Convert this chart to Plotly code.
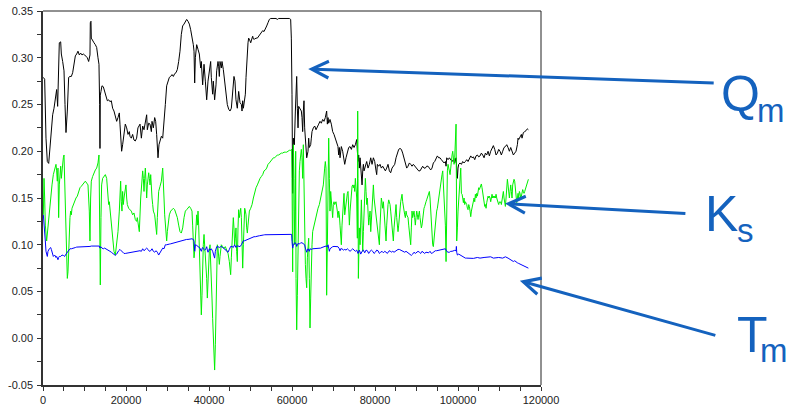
import plotly.graph_objects as go

# ---------------- data ----------------
qm_x = [80, 400, 720, 1040, 1370, 1690, 2010, 2330, 2650, 2970, 3290, 3530, 3770, 3930, 4260, 4420, 4740, 5060, 5300, 5540, 5860, 6180, 6500, 6830, 7150, 7470, 7790, 8110, 8430, 8750, 9070, 9390, 9720, 10040, 10360, 10680, 11000, 11320, 11400, 11560, 11640, 11960, 12290, 12610, 12930, 13250, 13490, 13650, 13730, 13810, 13970, 14210, 14530, 14850, 15180, 15500, 15820, 16140, 16460, 16780, 17100, 17430, 17750, 18070, 18390, 18550, 18710, 18950, 19190, 19510, 19830, 20160, 20480, 20800, 20960, 21280, 21600, 21920, 22240, 22560, 22880, 23130,
        23380, 23700, 24020, 24340, 24660, 24980, 25140, 25460, 25790, 26110, 26270, 26590, 26910, 27150, 27390, 27710, 27950, 28200, 28520, 28840, 29160, 29480, 29800, 30120, 30440, 30760, 31090, 31410, 31730, 32050, 32370, 32690, 33010, 33330, 33650, 33980, 34300, 34620, 34940, 35260, 35580, 35900, 36220, 36390, 36550, 36710, 37030, 37350, 37670, 37990, 38150, 38470, 38800, 39120, 39440, 39760, 40080, 40400, 40560, 40880, 41040, 41360, 41690, 41850, 42170, 42330, 42490, 42650, 42970, 43130, 43450, 43770, 44090, 44410, 44740, 45060, 45380, 45700, 46020, 46260, 46500, 46820, 47150, 47470,
        47800, 47960, 48120, 48280, 48440, 48600, 48760, 48920, 49080, 49240, 49400, 49560, 49730, 49890, 50050, 50210, 50370, 50530, 50690, 51010, 51330, 51650, 51970, 52300, 52620, 52940, 53260, 53580, 53900, 54220, 54380, 54540, 54870, 55190, 55510, 55830, 56150, 56470, 56790, 57110, 57430, 57910, 58400, 58880, 59360, 59680, 59840, 60000, 60080, 60160, 60330, 60570, 60810, 60970, 61130, 61290, 61450, 61610, 61930, 62250, 62410, 62570, 62730, 62890, 63050, 63220, 63380, 63540, 63860, 64020, 64180, 64500, 64660, 64820, 65140, 65470, 65790, 66110, 66430, 66750, 67070, 67390, 67710, 68030, 68190, 68350, 68520, 68680, 68840, 69000, 69160, 69480, 69800, 70120, 70440, 70760, 71080, 71250, 71410, 71570, 71890, 72210, 72530,
        72700, 73020, 73340, 73660, 73990, 74310, 74630, 74950, 75270, 75590, 75750, 75910, 76070, 76230, 76400, 76560, 76720, 76880, 77040, 77200, 77360, 77680, 78000, 78320, 78640, 78970, 79290, 79610, 79930, 80250, 80410, 80570, 80890, 81210, 81530, 81850, 82180, 82500, 82820, 83140, 83460, 83780, 84100, 84420, 84750, 85070, 85390, 85710, 86030, 86350, 86670, 86990, 87320, 87640, 87960, 88280, 88600, 88920, 89240, 89560, 89880, 90210, 90530, 90850, 91170, 91490, 91810, 92130, 92450, 92780, 93100, 93420, 93740, 94060, 94380, 94700, 95030, 95350, 95670, 95990, 96310, 96630,
        96960, 97120, 97280, 97600, 97930, 98250, 98570, 98890, 99210, 99530, 99690, 99850, 100010, 100170, 100500, 100820, 101140, 101460, 101780, 102100, 102420, 102740, 103070, 103390, 103710, 104030, 104350, 104670, 104990, 105310, 105630, 105960, 106280, 106600, 106920, 107240, 107560, 107880, 108200, 108520, 108850, 109170, 109490, 109810, 110130, 110450, 110770, 111090, 111420, 111740, 112060, 112380, 112700, 113020, 113340, 113660, 113980, 114310, 114470, 114630, 114950, 115270, 115430, 115750, 116070, 116390, 116710, 116960]
qm_vals = [.279, .277, .214, .189, .187, .207, .225, .239, .246, .254, .266, .248, .279, .316, .317, .304, .296, .286, .25, .22, .243, .279, .28, .28, .284, .293, .302, .304, .307, .303, .305, .303, .304, .303, .301, .30, .296, .303, .3375, .339, .321, .318, .316, .314, .311, .30, .293, .25, .203, .26, .264, .27, .269, .264, .261, .254, .255, .253, .254, .246, .243, .237, .232, .236, .241, .229, .214, .20, .207, .221, .229, .225, .218, .221, .216, .214, .218, .212, .211, .214, .225, .227,
           .229, .214, .227, .223, .232, .239, .223, .230, .229, .221, .232, .225, .236, .232, .218, .193, .207, .211, .216, .214, .229, .25, .270, .275, .279, .280, .282, .280, .283, .284, .2875, .296, .307, .325, .334, .336, .339, .341, .339, .336, .330, .323, .314, .307, .273, .30, .314, .309, .304, .289, .296, .271, .293, .275, .255, .275, .2875, .296, .279, .261, .275, .255, .271, .286, .296, .291, .280, .296, .289, .296, .2875, .275, .2625, .25, .245, .243, .246, .264, .280, .275, .255, .246, .264, .252,
           .25, .243, .254, .246, .252, .254, .261, .279, .296, .311, .316, .321, .320, .318, .316, .320, .321, .323, .320, .320, .321, .321, .323, .325, .327, .329, .328, .332, .334, .3375, .340, .341, .342, .342, .342, .342, .342, .341, .342, .342, .342, .342, .342, .342, .342, .341, .321, .261, .207, .155, .214, .207, .243, .261, .280, .246, .225, .248, .246, .243, .236, .221, .243, .254, .225, .211, .20, .193, .20, .214, .204, .207, .214, .221, .225, .227, .223, .227, .229, .232, .230, .234, .232, .236, .239, .243, .229, .236, .230, .232, .234, .229, .221, .218, .214, .211, .205, .196, .204, .193, .205, .20, .193,
           .186, .193, .20, .204, .205, .202, .207, .204, .207, .2125, .20, .189, .196, .182, .193, .182, .179, .164, .179, .186, .179, .186, .189, .182, .186, .193, .186, .193, .189, .179, .175, .186, .184, .186, .182, .184, .182, .179, .182, .186, .179, .177, .182, .184, .186, .193, .198, .202, .203, .202, .198, .193, .1875, .182, .184, .1875, .186, .184, .186, .184, .182, .18, .179, .179, .182, .184, .182, .182, .184, .184, .182, .18, .182, .1875, .189, .193, .195, .193, .193, .191, .189, .1875,
           .189, .184, .193, .191, .193, .191, .189, .191, .1875, .193, .182, .171, .182, .186, .1875, .186, .189, .1875, .189, .191, .189, .193, .195, .193, .194, .191, .195, .196, .194, .195, .198, .196, .193, .198, .196, .20, .195, .20, .204, .206, .202, .196, .198, .202, .20, .196, .20, .204, .205, .207, .204, .20, .204, .20, .196, .198, .20, .207, .214, .2125, .216, .218, .214, .22, .221, .222, .224, .223]

ks_x = [80, 240, 400, 560, 880, 1200, 1530, 1850, 2170, 2490, 2810, 3130, 3290, 3450, 3610, 3770, 3930, 4100, 4260, 4420, 4580, 4900, 5060, 5220, 5380, 5540, 5700, 5860, 6020, 6180, 6340, 6500, 6660, 6830, 6990, 7310, 7630, 7950, 8270, 8590, 8910, 9230, 9560, 9880, 10200, 10520, 10840, 11160, 11320, 11480, 11640, 11960, 12290, 12610, 12930, 13250, 13490, 13650, 13810, 13970, 14130, 14370, 14690, 15020, 15340, 15660, 15820, 15980, 16140, 16460, 16780, 17100, 17430, 17750, 18070, 18390, 18550, 18710, 18870, 19030, 19190, 19350, 19510, 19830, 19990, 20160, 20320, 20640, 20960, 21280, 21600, 21920, 22240, 22560, 22720, 23050, 23210,
        23540, 23700, 24020, 24180, 24340, 24500, 24660, 24820, 24980, 25140, 25300, 25470, 25630, 25790, 25950, 26110, 26270, 26430, 26590, 26910, 27230, 27390, 27550, 27710, 27870, 28200, 28520, 28840, 29000, 29160, 29320, 29480, 29640, 29800, 29960, 30120, 30440, 30770, 31090, 31410, 31730, 32050, 32370, 32690, 33010, 33330, 33660, 33980, 34300, 34620, 34940, 35260, 35580, 35900, 36060, 36230, 36390, 36550, 36710, 36870, 37030, 37190, 37350, 37510, 37670, 37830, 37990, 38150, 38310, 38470, 38630, 38800, 38960, 39120, 39280, 39440, 39600, 39760, 39920, 40080, 40240, 40400, 40560, 40720, 40880, 41040, 41200, 41360, 41530, 41690, 41850, 42010, 42170, 42330, 42490, 42650, 42810, 42970, 43290, 43610, 43930, 44260, 44580, 44900, 45220, 45380, 45540, 45700, 45860, 46020, 46180, 46340, 46500, 46660, 46830, 46990, 47150, 47310,
        47480, 47640, 47800, 47960, 48120, 48280, 48440, 48600, 48760, 48920, 49080, 49240, 49400, 49560, 49730, 50050, 50370, 50690, 51010, 51330, 51650, 51970, 52300, 52620, 52940, 53260, 53580, 53900, 54220, 54540, 54870, 55190, 55510, 55830, 56150, 56470, 56790, 57110, 57430, 57750, 58080, 58400, 58720, 59040, 59360, 59680, 59920, 60000, 60160, 60240, 60330, 60490, 60650, 60810, 60890, 60970, 61130, 61290, 61450, 61610, 61770, 61930, 62090, 62250, 62410, 62570, 62730, 62890, 63050, 63220, 63380, 63540, 63700, 63860, 64020, 64180, 64340, 64500, 64660, 64820, 64980, 65300, 65630, 65950, 66270, 66590, 66910, 67230, 67550, 67870, 68030, 68190, 68350, 68520, 68680, 68840, 69000, 69160, 69320, 69480, 69640, 69800, 69960, 70120, 70280, 70600, 70920, 71080, 71250, 71410, 71570, 71730, 71890, 72050, 72210, 72370, 72530,
        72700, 72860, 73020, 73180, 73340, 73500, 73660, 73830, 73990, 74150, 74310, 74470, 74630, 74790, 74950, 75110, 75270, 75430, 75590, 75750, 75830, 75910, 75990, 76070, 76150, 76230, 76400, 76560, 76720, 76880, 77040, 77200, 77360, 77520, 77680, 77840, 78000, 78160, 78320, 78480, 78640, 78810, 78970, 79130, 79290, 79450, 79610, 79770, 79930, 80090, 80250, 80410, 80570, 80730, 80890, 81050, 81210, 81370, 81530, 81700, 81850, 82020, 82180, 82340, 82500, 82660, 82820, 82980, 83140, 83300, 83460, 83620, 83780, 83940, 84100, 84260, 84420, 84590, 84750, 84910, 85070, 85230, 85390, 85550, 85710, 85870, 86030, 86190, 86350, 86510, 86670, 86830, 86990, 87160, 87320, 87480, 87640, 87800, 87960, 88120, 88280, 88440, 88600, 88760, 88920, 89080, 89240, 89400, 89560, 89720, 89880, 90050, 90210, 90370, 90530, 90690, 90850, 91010, 91170, 91330, 91490, 91650, 91810, 91970, 92130, 92290, 92450, 92620, 92780, 92940, 93100, 93260, 93420, 93580, 93740, 93900, 94060, 94220, 94380, 94540, 94700, 94860, 95030, 95190, 95350, 95510, 95670, 95830, 95990, 96150,
        96320, 96480, 96640, 96800, 96960, 97120, 97280, 97440, 97600, 97760, 97930, 98090, 98250, 98410, 98570, 98730, 98890, 99050, 99210, 99370, 99450, 99530, 99610, 99690, 99850, 100010, 100170, 100330, 100500, 100660, 100820, 100980, 101140, 101300, 101460, 101620, 101780, 101940, 102100, 102260, 102420, 102580, 102740, 102900, 103070, 103230, 103390, 103550, 103710, 103870, 104030, 104190, 104350, 104510, 104670, 104830, 104990, 105150, 105310, 105470, 105630, 105790, 105960, 106120, 106280, 106440, 106600, 106760, 106920, 107080, 107240, 107400, 107560, 107720, 107880, 108040, 108200, 108360, 108520, 108690, 108850, 109010, 109170, 109330, 109490, 109650, 109810, 109970, 110130, 110290, 110450, 110610, 110770, 110930, 111090, 111250, 111420, 111580, 111740, 111900, 112060, 112220, 112380, 112540, 112700, 112860, 113020, 113180, 113340, 113500, 113660, 113820, 113980, 114150, 114310, 114470, 114630, 114790, 114950, 115110, 115270, 115430, 115590, 115750, 115910, 116070, 116230, 116390, 116550, 116710, 116870, 116960]
ks_vals = [.132, .171, .15, .121, .104, .121, .136, .15, .164, .175, .182, .186, .179, .168, .182, .129, .164, .182, .184, .171, .182, .193, .196, .171, .136, .10, .079, .064, .071, .10, .114, .129, .136, .132, .139, .143, .146, .15, .152, .157, .161, .1625, .164, .166, .168, .166, .164, .136, .104, .15, .168, .173, .177, .18, .182, .1875, .196, .136, .057, .129, .164, .171, .173, .175, .171, .157, .143, .146, .139, .125, .107, .093, .089, .10, .114, .136, .15, .168, .146, .136, .157, .143, .15, .157, .164, .15, .143, .139, .1375, .136, .132, .134, .127, .125, .129, .121, .114,
           .15, .164, .179, .171, .157, .171, .182, .168, .15, .164, .175, .177, .171, .164, .175, .157, .15, .143, .136, .132, .121, .111, .129, .15, .157, .1625, .168, .182, .171, .15, .132, .118, .107, .104, .114, .121, .132, .136, .1375, .139, .1375, .134, .129, .121, .114, .1125, .118, .129, .136, .1375, .139, .141, .139, .136, .121, .10, .086, .093, .107, .129, .132, .121, .136, .121, .093, .064, .036, .025, .046, .086, .10, .111, .10, .093, .079, .064, .043, .064, .086, .093, .10, .086, .064, .043, .021, .0, -.021, -.034, -.007, .029, .079, .10, .096, .086, .079, .0875, .093, .10, .098, .096, .098, .095, .091, .082, .068, .086, .104, .121, .129, .118, .10, .107, .118, .093, .082, .118, .1375, .129,
           .136, .139, .129, .107, .075, .10, .136, .139, .136, .132, .118, .1125, .121, .129, .136, .139, .143, .15, .157, .161, .164, .168, .171, .173, .175, .179, .18, .182, .186, .1875, .189, .191, .193, .193, .195, .196, .196, .197, .198, .198, .199, .199, .199, .20, .201, .201, .202, .171, .071, .136, .207, .171, .10, .136, .20, .064, .009, .046, .10, .15, .179, .189, .196, .202, .193, .171, .207, .15, .10, .079, .064, .054, .086, .10, .107, .064, .011, .043, .086, .10, .114, .121, .129, .136, .139, .143, .15, .157, .164, .182, .189, .182, .046, .10, .179, .214, .171, .136, .157, .15, .136, .129, .143, .146, .143, .146, .136, .129, .136, .132, .121, .107, .10, .121, .136, .15, .155,
           .132, .139, .146, .15, .155, .157, .136, .121, .136, .15, .157, .1625, .164, .161, .164, .157, .171, .164, .15, .107, .243, .171, .064, .10, .064, .118, .10, .136, .148, .121, .093, .114, .143, .161, .171, .157, .143, .15, .136, .121, .129, .136, .114, .129, .143, .154, .164, .15, .143, .136, .129, .121, .118, .111, .104, .10, .121, .143, .15, .145, .139, .146, .136, .121, .114, .104, .121, .136, .143, .148, .146, .143, .136, .129, .121, .111, .104, .118, .129, .136, .143, .129, .121, .114, .121, .132, .139, .146, .15, .154, .146, .139, .136, .132, .129, .136, .132, .130, .129, .121, .114, .107, .10, .118, .136, .129, .132, .136, .129, .121, .129, .136, .132, .127, .132, .136, .129, .121, .118, .121, .129, .136, .139, .141, .145, .146, .148, .15, .152, .155, .157, .15, .136, .118, .107, .10, .098, .107, .118, .125, .132, .136, .139, .145, .15, .155, .161, .164, .17, .175,
           .179, .164, .15, .136, .121, .082, .15, .179, .186, .182, .179, .175, .182, .193, .196, .20, .193, .186, .193, .207, .225, .229, .171, .104, .118, .136, .15, .164, .175, .182, .155, .154, .15, .145, .15, .143, .146, .145, .143, .139, .1375, .143, .141, .136, .13, .136, .139, .141, .146, .15, .146, .154, .15, .155, .152, .157, .161, .159, .161, .164, .165, .161, .154, .15, .145, .141, .143, .139, .145, .15, .152, .15, .152, .15, .146, .15, .154, .15, .152, .15, .152, .15, .154, .15, .146, .145, .143, .146, .145, .146, .143, .15, .154, .157, .15, .145, .141, .15, .161, .17, .164, .155, .15, .157, .164, .157, .15, .164, .168, .17, .168, .161, .152, .145, .15, .155, .15, .157, .155, .15, .152, .157, .159, .157, .155, .157, .159, .161, .164, .166, .168, .17]

tm_x = [80, 240, 400, 560, 720, 880, 1040, 1200, 1370, 1530, 1690, 1850, 2010, 2170, 2330, 2490, 2810, 3130, 3290, 3450, 3610, 3770, 3930, 4260, 4580, 4900, 5220, 5540, 5860, 6180, 6500, 6830, 7150, 7470, 7790, 8110, 8430, 8750, 9070, 9390, 9720, 10040, 10360, 10680, 11000, 11320, 11640, 11960, 12290, 12610, 12930, 13250, 13570, 13730, 13890, 14210, 14530, 14850, 15180, 15500, 15820, 16140, 16460, 16780, 17100, 17430, 17750, 17910, 18070, 18230, 18550, 18870, 19190, 19510, 19830, 20160, 20480, 20800, 21120, 21440, 21760, 22080, 22400, 22720, 23050, 23370,
        23700, 24020, 24340, 24660, 24980, 25300, 25630, 25950, 26270, 26590, 26910, 27230, 27550, 27870, 28200, 28520, 28840, 29160, 29480, 29800, 30120, 30440, 30770, 31090, 31410, 31730, 32050, 32370, 32690, 33010, 33330, 33660, 33980, 34300, 34620, 34940, 35260, 35580, 35900, 36230, 36390, 36550, 36710, 37030, 37350, 37670, 37830, 37990, 38150, 38310, 38470, 38630, 38960, 39280, 39440, 39600, 39760, 39920, 40080, 40240, 40560, 40880, 41200, 41360, 41530, 41690, 41850, 42170, 42490, 42810, 43130, 43450, 43770, 44090, 44260, 44580, 44900, 45220, 45540, 45860, 46180, 46500, 46830, 47150, 47470, 47790,
        48120, 48280, 48600, 48920, 49240, 49560, 49890, 50210, 50530, 50850, 51170, 51490, 51810, 52130, 52460, 52780, 53100, 53420, 53740, 54060, 54380, 54700, 55030, 55510, 56310, 57110, 57910, 58720, 59520, 59920, 60000, 60160, 60330, 60490, 60650, 60970, 61130, 61290, 61450, 61770, 62090, 62410, 62730, 63050, 63220, 63380, 63540, 63700, 63860, 64020, 64180, 64340, 64660, 64980, 65300, 65630, 65950, 66270, 66590, 66910, 67230, 67550, 67870, 68190, 68520, 68680, 68840, 69000, 69160, 69480, 69800, 70120, 70440, 70760, 71080, 71410, 71570, 71730, 72050, 72370, 72690,
        73020, 73340, 73660, 73990, 74310, 74630, 74950, 75270, 75590, 75910, 76230, 76560, 76880, 77200, 77520, 77840, 78160, 78480, 78810, 79130, 79450, 79770, 80090, 80410, 80730, 81050, 81370, 81700, 82020, 82340, 82660, 82980, 83300, 83620, 83940, 84260, 84590, 84910, 85230, 85550, 85870, 86190, 86510, 86830, 87160, 87480, 87800, 88120, 88440, 88760, 89080, 89400, 89720, 90050, 90370, 90690, 91010, 91330, 91650, 91970, 92290, 92620, 92940, 93260, 93580, 93900, 94220, 94540, 94860, 95190, 95510, 95830, 96150, 96470, 96640,
        96960, 97280, 97600, 97930, 98250, 98570, 98890, 99210, 99530, 99610, 99690, 99850, 100170, 100500, 100820, 101140, 101460, 101780, 102100, 102740, 103710, 104670, 105310, 106280, 107240, 107880, 108520, 109810, 110770, 111420, 112060, 112380, 112700, 113020, 113340, 113660, 113980, 114310, 114630, 114950, 115270, 115590, 115910, 116230, 116550, 116870, 116960]
tm_vals = [.132, .125, .114, .104, .093, .091, .0875, .093, .095, .0957, .0964, .097, .095, .093, .091, .0875, .089, .0864, .0875, .085, .084, .0864, .0875, .0875, .089, .0886, .0875, .090, .092, .0936, .0957, .0957, .0964, .0964, .097, .0975, .0975, .0979, .0975, .0979, .0975, .0979, .0982, .0979, .0975, .0982, .0986, .0986, .0982, .0986, .0986, .0982, .0986, .0964, .0979, .0964, .0957, .0964, .0957, .0943, .0936, .093, .092, .0907, .089, .0886, .090, .0914, .092, .0936, .095, .0936, .0914, .0907, .0907, .091, .0914, .0914, .0918, .092, .092, .0925, .0925, .093, .093, .0936,
           .093, .0957, .0936, .095, .0964, .095, .093, .0936, .0957, .093, .092, .0936, .092, .089, .092, .095, .0964, .0957, .10, .10, .1007, .1007, .101, .1014, .1021, .1025, .1029, .1036, .104, .1043, .1046, .105, .105, .1054, .1057, .1057, .1061, .1064, .1064, .1057, .1036, .093, .10, .0993, .0979, .0971, .0964, .0943, .093, .0957, .0971, .0957, .0943, .0957, .0979, .0943, .092, .0936, .0957, .0943, .0957, .093, .089, .0857, .093, .0957, .0979, .0979, .0971, .0979, .0979, .0964, .0957, .0943, .093, .092, .095, .0982, .0982, .0971, .10, .0971, .0989, .0982, .0979, .10,
           .1036, .1043, .1043, .105, .1057, .1061, .1071, .1071, .1079, .1086, .1086, .1093, .1093, .1096, .1096, .1104, .1104, .1107, .1107, .1107, .1107, .1111, .1111, .1111, .1111, .1111, .1111, .1111, .1111, .1111, .1036, .0964, .10, .1007, .1021, .1014, .0982, .10, .1014, .1007, .1021, .1021, .1014, .10, .0964, .0936, .092, .0943, .0957, .0943, .093, .0957, .095, .0957, .0957, .0957, .0964, .0964, .0957, .0964, .0971, .0979, .0979, .0986, .0979, .10, .0964, .093, .0957, .0971, .0979, .0982, .0982, .0986, .0979, .0957, .0936, .0957, .0957, .0943, .095,
           .0943, .0957, .0943, .093, .0943, .0957, .0943, .093, .0943, .0907, .0943, .090, .093, .0943, .0914, .0943, .0936, .0907, .093, .0943, .093, .0907, .092, .0943, .0936, .0907, .092, .093, .0914, .093, .092, .0907, .093, .0936, .092, .093, .092, .093, .0943, .095, .095, .0943, .0936, .093, .092, .093, .092, .0907, .090, .0886, .090, .092, .0907, .092, .093, .092, .0907, .093, .0914, .0907, .092, .0914, .0914, .093, .0907, .0914, .093, .0936, .0936, .094, .0943, .095, .0954, .0954, .0957,
           .0957, .093, .092, .092, .093, .093, .0936, .094, .0936, .0982, .092, .089, .090, .089, .0879, .0871, .0864, .0857, .0857, .0857, .0854, .0864, .0857, .0864, .0871, .0871, .0857, .0864, .0857, .0871, .0857, .085, .0836, .0829, .0821, .0829, .0814, .0807, .08, .0793, .0786, .0779, .0768, .0764, .0757, .075, .075]

x_tick_vals = [0, 20000, 40000, 60000, 80000, 100000, 120000]
x_tick_text = ["0", "20000", "40000", "60000", "80000", "100000", "120000"]
y_tick_vals = [-0.05, 0.0, 0.05, 0.10, 0.15, 0.20, 0.25, 0.30, 0.35]
y_tick_text = ["-0.05", "0.00", "0.05", "0.10", "0.15", "0.20", "0.25", "0.30", "0.35"]
x_minor_ticks = [5000 * i for i in range(25)]
y_minor_ticks = [-0.05 + 0.025 * i for i in range(17)]

label_main = ["Q", "K", "T"]
label_sub = ["m", "s", "m"]
# arrow tips in data coordinates (where each label points)
arrow_tip_x = [63900, 111300, 114900]
arrow_tip_y = [0.288, 0.144, 0.0615]

# ---------------- figure ----------------
BLUE = "#1462BE"
FONT = "Liberation Sans, Arial, sans-serif"

fig = go.Figure()
fig.add_trace(go.Scatter(x=qm_x, y=qm_vals, mode="lines", line=dict(color="#000000", width=1), showlegend=False))
fig.add_trace(go.Scatter(x=ks_x, y=ks_vals, mode="lines", line=dict(color="#00F000", width=1), showlegend=False))
fig.add_trace(go.Scatter(x=tm_x, y=tm_vals, mode="lines", line=dict(color="#0000FF", width=1), showlegend=False))

axis_common = dict(showgrid=False, zeroline=False, showline=True, linecolor="#333333", linewidth=1.5,
                   ticks="outside", ticklen=4, tickwidth=1, tickcolor="#333333", automargin=False,
                   tickfont=dict(family=FONT, size=11, color="#222222"))

fig.update_xaxes(range=[0, 120000], tickmode="array", tickvals=x_tick_vals, ticktext=x_tick_text,
                 minor=dict(tickmode="array", tickvals=x_minor_ticks, ticks="outside", ticklen=4,
                            tickwidth=1, tickcolor="#333333", showgrid=False),
                 **axis_common)
fig.update_yaxes(range=[-0.05, 0.35], tickmode="array", tickvals=y_tick_vals, ticktext=y_tick_text,
                 ticklabelstandoff=2,
                 minor=dict(tickmode="array", tickvals=y_minor_ticks, ticks="outside", ticklen=4,
                            tickwidth=1, tickcolor="#333333", showgrid=False),
                 **axis_common)

# thin top/right frame
fig.add_shape(type="line", xref="paper", yref="paper", x0=0, x1=1, y0=1, y1=1, line=dict(color="#222222", width=1))
fig.add_shape(type="line", xref="paper", yref="paper", x0=1, x1=1, y0=0, y1=1, line=dict(color="#222222", width=1))

# label text: main letter and subscript as separate text items
main_pos = [(1.3566, 0.7781), (1.3257, 0.4559), (1.3894, 0.1350)]
sub_pos = [(1.4295, 0.7329), (1.3896, 0.4128), (1.4353, 0.0920)]
for txt, (lx, ly) in zip(label_main, main_pos):
    fig.add_annotation(text=txt, xref="paper", yref="paper", x=lx, y=ly, xanchor="left", yanchor="middle",
                       showarrow=False, font=dict(family=FONT, size=50, color=BLUE))
for txt, (lx, ly) in zip(label_sub, sub_pos):
    fig.add_annotation(text=txt, xref="paper", yref="paper", x=lx, y=ly, xanchor="left", yanchor="middle",
                       showarrow=False, font=dict(family=FONT, size=33, color=BLUE))

# arrows
arrow_tail = [(407, 14), (182, 10), (197, 55)]
for tx, ty, (ax, ay) in zip(arrow_tip_x, arrow_tip_y, arrow_tail):
    fig.add_annotation(text="", x=tx, y=ty, xref="x", yref="y", ax=ax, ay=ay, showarrow=True,
                       arrowhead=5, arrowsize=1.1, arrowwidth=3, arrowcolor=BLUE, standoff=0)

fig.update_layout(width=791, height=406, margin=dict(l=43, r=250, t=11, b=21),
                  paper_bgcolor="white", plot_bgcolor="white", showlegend=False)

fig.write_html("out.html")
